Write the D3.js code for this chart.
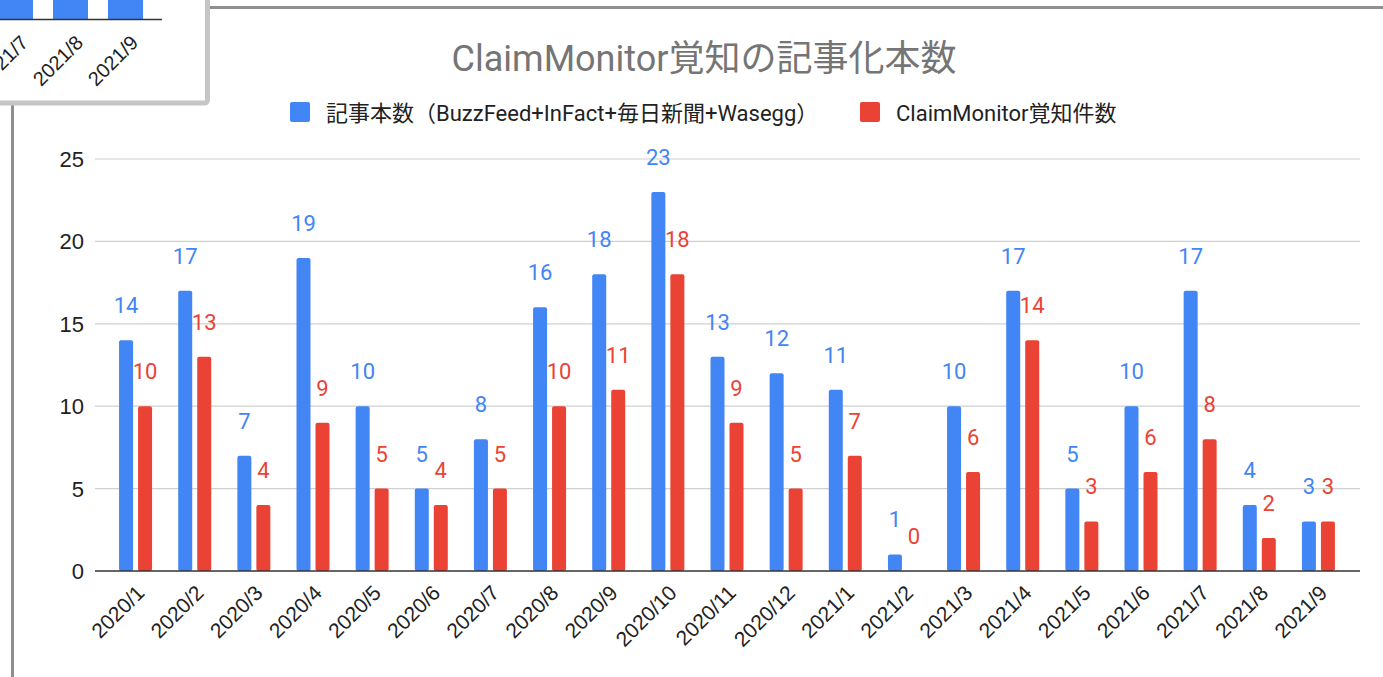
<!DOCTYPE html>
<html>
<head>
<meta charset="utf-8">
<script src="https://cdn.jsdelivr.net/npm/d3@7"></script>
<style>
  body { margin: 0; background: #fff; }
  text { font-family: Roboto, "Liberation Sans", "Noto Sans CJK JP", sans-serif; }
  .axislab { font-family: "Liberation Sans", Arial, "Noto Sans CJK JP", sans-serif; }
</style>
</head>
<body>
<div class="chart"></div>
<script>
// data
const months = ['2020/1','2020/2','2020/3','2020/4','2020/5','2020/6','2020/7','2020/8','2020/9','2020/10','2020/11','2020/12',
  '2021/1','2021/2','2021/3','2021/4','2021/5','2021/6','2021/7','2021/8','2021/9']
const articles = [14,17,7,19,10,5,8,16,18,23,13,12,11,1,10,17,5,10,17,4,3]
const noticed = [10,13,4,9,5,4,5,10,11,18,9,5,7,0,6,14,3,6,8,2,3]
const seriesNames = ['記事本数（BuzzFeed+InFact+毎日新聞+Wasegg）', 'ClaimMonitor覚知件数']
const yTicks = [0,5,10,15,20,25]
const title = 'ClaimMonitor覚知の記事化本数'

// the small card in the corner (cropped view of another chart)
const miniMonths = ['2021/7','2021/8','2021/9']
const miniValues = [17,4,3]

const colors = ['#4285f4', '#ea4335']

const w = 1383
const h = 677

const svg = d3.select('.chart')
  .append('svg')
  .attr('width', w)
  .attr('height', h)

// main card frame
svg.append('rect')
  .attr('x', 12.5).attr('y', 7.5)
  .attr('width', 1400).attr('height', 700)
  .attr('fill', '#fff')
  .attr('stroke', '#8f8f8f')
  .attr('stroke-width', 3)

const x = d3.scaleBand().domain(months).range([106, 1348])
const xs = d3.scaleBand().domain([0, 1]).range([-16.5, 16.5]).paddingInner(0.263)
const y = d3.scaleLinear().domain([0, 25]).range([571, 159])

// title
svg.append('text')
  .attr('x', 704).attr('y', 71)
  .attr('text-anchor', 'middle')
  .attr('font-size', 36)
  .attr('fill', '#757575')
  .text(title)

// legend
const legendX = [290, 860]
const lg = svg.selectAll('.legend')
  .data(seriesNames)
  .enter()
  .append('g')
  .attr('class', 'legend')
  .attr('transform', (d, i) => `translate(${legendX[i]},0)`)
lg.append('rect')
  .attr('x', 0).attr('y', 102)
  .attr('width', 20).attr('height', 20)
  .attr('rx', 2)
  .attr('fill', (d, i) => colors[i])
lg.append('text')
  .attr('x', 36).attr('y', 121)
  .attr('font-size', 22)
  .attr('fill', '#222')
  .text(d => d)

// grid + y labels
svg.selectAll('.grid')
  .data(yTicks.slice(1))
  .enter()
  .append('line')
  .attr('x1', 95).attr('x2', 1360)
  .attr('y1', d => y(d)).attr('y2', d => y(d))
  .attr('stroke', '#d0d0d0')
  .attr('stroke-width', 1.2)

svg.selectAll('.ylab')
  .data(yTicks)
  .enter()
  .append('text')
  .attr('class', 'axislab')
  .attr('x', 84)
  .attr('y', d => y(d))
  .attr('dy', '0.36em')
  .attr('text-anchor', 'end')
  .attr('font-size', 22)
  .attr('fill', '#222')
  .text(d => d)

// bars
const series = [articles, noticed]
series.forEach((vals, s) => {
  svg.selectAll('.bar' + s)
    .data(vals)
    .enter()
    .append('rect')
    .attr('x', (d, i) => x(months[i]) + x.bandwidth() / 2 + xs(s))
    .attr('y', d => y(d))
    .attr('width', xs.bandwidth())
    .attr('height', d => y(0) - y(d))
    .attr('rx', 2)
    .attr('fill', colors[s])

  svg.selectAll('.lab' + s)
    .data(vals)
    .enter()
    .append('text')
    .attr('x', (d, i) => x(months[i]) + x.bandwidth() / 2 + xs(s) + xs.bandwidth() / 2)
    .attr('y', d => y(d) - 35)
    .attr('dy', '0.36em')
    .attr('text-anchor', 'middle')
    .attr('font-size', 22)
    .attr('fill', colors[s])
    .text(d => d)
})

// x axis
svg.append('line')
  .attr('x1', 95).attr('x2', 1360)
  .attr('y1', y(0)).attr('y2', y(0))
  .attr('stroke', '#333')
  .attr('stroke-width', 1.5)

svg.selectAll('.xlab')
  .data(months)
  .enter()
  .append('text')
  .attr('class', 'axislab')
  .attr('transform', d => `translate(${x(d) + x.bandwidth() / 2 + 5},589) rotate(-45)`)
  .attr('dy', '0.35em')
  .attr('text-anchor', 'end')
  .attr('font-size', 21)
  .attr('fill', '#222')
  .text(d => d)

// mini card on top-left
const mini = svg.append('g')
svg.append('clipPath').attr('id', 'miniclip')
  .append('rect').attr('x', 0).attr('y', 0).attr('width', 205).attr('height', 101)
mini.append('rect')
  .attr('x', -10).attr('y', -10)
  .attr('width', 217.5).attr('height', 113)
  .attr('rx', 3)
  .attr('fill', '#fff')
  .attr('stroke', '#c6c6c6')
  .attr('stroke-width', 5)
const mg = mini.append('g').attr('clip-path', 'url(#miniclip)')
const mx = d3.scaleBand().domain(miniMonths).range([-12, 153]).paddingInner(0.364).paddingOuter(0.182)
const my = d3.scaleLinear().domain([0, 25]).range([19.5, -392])
mg.selectAll('rect')
  .data(miniValues)
  .enter()
  .append('rect')
  .attr('x', (d, i) => mx(miniMonths[i]))
  .attr('y', d => my(d))
  .attr('width', mx.bandwidth())
  .attr('height', d => my(0) - my(d))
  .attr('fill', colors[0])
mg.append('line')
  .attr('x1', 0).attr('x2', 162)
  .attr('y1', 19.5).attr('y2', 19.5)
  .attr('stroke', '#333')
  .attr('stroke-width', 1.5)
mg.selectAll('text')
  .data(miniMonths)
  .enter()
  .append('text')
  .attr('class', 'axislab')
  .attr('transform', d => `translate(${mx(d) + mx.bandwidth() / 2 + 9},39) rotate(-45)`)
  .attr('dy', '0.35em')
  .attr('text-anchor', 'end')
  .attr('font-size', 20)
  .attr('fill', '#222')
  .text(d => d)
</script>
</body>
</html>
